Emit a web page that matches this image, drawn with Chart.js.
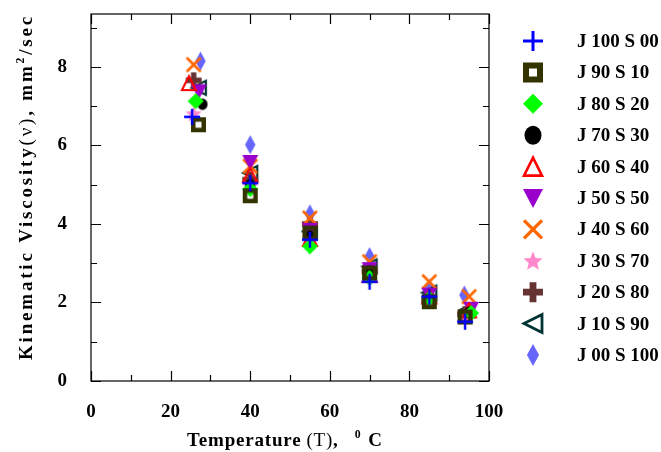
<!DOCTYPE html>
<html>
<head>
<meta charset="utf-8">
<script src="https://cdn.jsdelivr.net/npm/chart.js@4.4.1/dist/chart.umd.min.js"></script>
<style>
  html, body { margin: 0; padding: 0; background: #ffffff; }
  #wrap { width: 661px; height: 452px; position: relative; }
</style>
</head>
<body>
<div id="wrap"><canvas id="chart" width="661" height="452"></canvas></div>
<script>
// ─── Data ───────────────────────────────────────────────────────────────────
const SERIES_NAMES = [
    "J 100 S 00", "J 90 S 10", "J 80 S 20", "J 70 S 30", "J 60 S 40", "J 50 S 50",
    "J 40 S 60", "J 30 S 70", "J 20 S 80", "J 10 S 90", "J 00 S 100",
];

// temperature (°C) and kinematic viscosity (mm²/sec) for each blend
const T_J100_S00 = [25.4, 40, 55, 70, 85, 94];
const V_J100_S00 = [6.73, 5.04, 3.60, 2.53, 2.15, 1.51];
const T_J90_S10  = [27.0, 40, 55, 70, 85, 94];
const V_J90_S10  = [6.53, 4.72, 3.77, 2.75, 2.02, 1.63];
const T_J80_S20  = [26.3, 40, 55, 70, 85, 95.5];
const V_J80_S20  = [7.13, 4.89, 3.43, 2.63, 2.10, 1.73];
const T_J70_S30  = [28.0, 40, 55, 70, 85, 95];
const V_J70_S30  = [7.05, 5.00, 3.70, 2.80, 2.10, 1.75];
const T_J60_S40  = [24.6, 40, 55, 70, 85, 95];
const V_J60_S40  = [7.59, 5.25, 3.62, 2.70, 2.15, 1.80];
const T_J50_S50  = [27.1, 40, 55, 70, 85, 95.5];
const V_J50_S50  = [7.38, 5.58, 3.85, 2.85, 2.20, 1.84];
const T_J40_S60  = [25.8, 40, 55, 70, 85, 95];
const V_J40_S60  = [8.06, 5.47, 4.15, 3.04, 2.53, 2.15];
const T_J30_S70  = [25.8, 40, 55, 70, 85, 94];
const V_J30_S70  = [6.81, 4.97, 3.60, 2.75, 2.07, 1.65];
const T_J20_S80  = [25.8, 40, 55, 70, 85, 94];
const V_J20_S80  = [7.66, 5.13, 4.00, 2.79, 2.05, 1.70];
const T_J10_S90  = [27.1, 40, 55, 70, 85, 94.5];
const V_J10_S90  = [7.47, 5.30, 3.81, 2.92, 2.25, 1.81];
const T_J00_S100 = [27.5, 40, 55, 70, 85, 93.8];
const V_J00_S100 = [8.15, 6.02, 4.26, 3.17, 2.36, 2.19];

const TEMPS = [T_J100_S00, T_J90_S10, T_J80_S20, T_J70_S30, T_J60_S40, T_J50_S50,
               T_J40_S60, T_J30_S70, T_J20_S80, T_J10_S90, T_J00_S100];
const VISCS = [V_J100_S00, V_J90_S10, V_J80_S20, V_J70_S30, V_J60_S40, V_J50_S50,
               V_J40_S60, V_J30_S70, V_J20_S80, V_J10_S90, V_J00_S100];

const X_TICKS = [0, 20, 40, 60, 80, 100];
const X_MINOR = [10, 30, 50, 70, 90];
const Y_TICKS = [0, 2, 4, 6, 8];
const Y_MINOR = [1, 3, 5, 7, 9];

// ─── Styles ─────────────────────────────────────────────────────────────────
const FONT = "'Liberation Serif', 'Times New Roman', serif";
const COLORS = ["#0000ff", "#333300", "#00ff00", "#000000", "#ff0000", "#9900cc",
                "#ff6600", "#ff88cc", "#663333", "#003333", "#6666ff"];

// draws marker i centred on (x, y); s is the full marker size
function drawMarker(ctx, i, x, y, s) {
    const c = COLORS[i];
    const h = s / 2;
    ctx.save();
    ctx.translate(x, y);
    ctx.fillStyle = c;
    ctx.strokeStyle = c;
    ctx.lineJoin = "miter";
    ctx.beginPath();
    switch (i) {
        case 0: // thin plus
            ctx.lineWidth = s * 0.15;
            ctx.moveTo(-h, 0); ctx.lineTo(h, 0);
            ctx.moveTo(0, -h); ctx.lineTo(0, h);
            ctx.stroke();
            break;
        case 1: { // hollow thick square
            const w = s * 0.3;
            ctx.rect(-h, -h, s, s);
            ctx.rect(h - w, -h + w, -(s - 2 * w), s - 2 * w);
            ctx.fill("evenodd");
            break;
        }
        case 2: // diamond
            ctx.moveTo(0, -h); ctx.lineTo(h, 0); ctx.lineTo(0, h); ctx.lineTo(-h, 0);
            ctx.closePath(); ctx.fill();
            break;
        case 3: // filled circle
            ctx.ellipse(0, 0, h * 0.85, h * 0.95, 0, 0, Math.PI * 2);
            ctx.fill();
            break;
        case 4: // open triangle up
            ctx.lineWidth = s * 0.13;
            ctx.moveTo(0, -h + 1); ctx.lineTo(h - 1, h - 1); ctx.lineTo(-h + 1, h - 1);
            ctx.closePath(); ctx.stroke();
            break;
        case 5: // filled triangle down
            ctx.moveTo(-h, -h + 1); ctx.lineTo(h, -h + 1); ctx.lineTo(0, h);
            ctx.closePath(); ctx.fill();
            break;
        case 6: // X
            ctx.lineWidth = s * 0.17;
            ctx.moveTo(-h + 1, -h + 1); ctx.lineTo(h - 1, h - 1);
            ctx.moveTo(h - 1, -h + 1); ctx.lineTo(-h + 1, h - 1);
            ctx.stroke();
            break;
        case 7: { // filled five point star
            for (let k = 0; k < 10; k++) {
                const r = k % 2 === 0 ? h : h * 0.45;
                const a = -Math.PI / 2 + k * Math.PI / 5;
                const px = Math.cos(a) * r, py = Math.sin(a) * r + h * 0.08;
                if (k === 0) ctx.moveTo(px, py); else ctx.lineTo(px, py);
            }
            ctx.closePath(); ctx.fill();
            break;
        }
        case 8: // heavy plus
            ctx.lineWidth = s * 0.34;
            ctx.moveTo(-h, 0); ctx.lineTo(h, 0);
            ctx.moveTo(0, -h); ctx.lineTo(0, h);
            ctx.stroke();
            break;
        case 9: // open triangle left
            ctx.lineWidth = s * 0.14;
            ctx.moveTo(-h + 1, 0); ctx.lineTo(h - 1, -h + 1); ctx.lineTo(h - 1, h - 1);
            ctx.closePath(); ctx.stroke();
            break;
        case 10: // narrow diamond
            ctx.moveTo(0, -h); ctx.lineTo(h * 0.55, 0); ctx.lineTo(0, h); ctx.lineTo(-h * 0.55, 0);
            ctx.closePath(); ctx.fill();
            break;
    }
    ctx.restore();
}

const PLOT_SIZES = [16, 15, 16, 12, 16, 16, 16, 17, 16, 16, 19];

function markerImage(i, s) {
    const cv = document.createElement("canvas");
    cv.width = s + 4;
    cv.height = s + 4;
    drawMarker(cv.getContext("2d"), i, (s + 4) / 2, (s + 4) / 2, s);
    return cv;
}

// ─── Plugins ────────────────────────────────────────────────────────────────
// boxed frame with inward ticks on all four sides
const framePlugin = {
    id: "frame",
    afterDraw(chart) {
        const { ctx, chartArea: a, scales } = chart;
        const xs = scales.x, ys = scales.y;
        ctx.save();
        ctx.strokeStyle = "#000";
        ctx.lineWidth = 1.2;
        ctx.strokeRect(a.left, a.top, a.right - a.left, a.bottom - a.top);
        ctx.beginPath();
        const tick = (x1, y1, x2, y2) => { ctx.moveTo(x1, y1); ctx.lineTo(x2, y2); };
        X_TICKS.forEach(v => {
            const x = Math.round(xs.getPixelForValue(v)) + 0.5;
            tick(x, a.bottom, x, a.bottom - 10);
            tick(x, a.top, x, a.top + 10);
        });
        X_MINOR.forEach(v => {
            const x = Math.round(xs.getPixelForValue(v)) + 0.5;
            tick(x, a.bottom, x, a.bottom - 6);
            tick(x, a.top, x, a.top + 6);
        });
        Y_TICKS.forEach(v => {
            const y = Math.round(ys.getPixelForValue(v)) + 0.5;
            tick(a.left, y, a.left + 10, y);
            tick(a.right, y, a.right - 10, y);
        });
        Y_MINOR.forEach(v => {
            const y = Math.round(ys.getPixelForValue(v)) + 0.5;
            tick(a.left, y, a.left + 6, y);
            tick(a.right, y, a.right - 6, y);
        });
        ctx.stroke();
        ctx.restore();
    },
};

// text made of bold / regular / superscript runs; gap = extra space after a run
function runFont(r, size) {
    const s = r.sup ? size * 0.62 : size;
    return (r.b ? "bold " : "") + s + "px " + FONT;
}
function richWidth(ctx, runs, size) {
    let w = 0;
    runs.forEach(r => {
        ctx.font = runFont(r, size);
        w += ctx.measureText(r.t).width + (r.gap || 0);
    });
    return w;
}
function drawRich(ctx, runs, x, y, size) {
    runs.forEach(r => {
        ctx.font = runFont(r, size);
        ctx.fillText(r.t, x, r.sup ? y - size * 0.42 : y);
        x += ctx.measureText(r.t).width + (r.gap || 0);
    });
}

const X_TITLE = [{ t: "Temperature", b: true, gap: 5 }, { t: "(T)" }, { t: ",", b: true, gap: 16 },
                 { t: "0", b: true, sup: true, gap: 7 }, { t: "C", b: true }];
const Y_TITLE = [{ t: "Kinematic Viscosity", b: true }, { t: "(ν)" }, { t: ", mm", b: true },
                 { t: "2", b: true, sup: true }, { t: "/sec", b: true }];

const titlesPlugin = {
    id: "titles",
    afterDraw(chart) {
        const { ctx } = chart;
        ctx.save();
        ctx.fillStyle = "#000";
        ctx.textBaseline = "alphabetic";
        const size = 19;
        ctx.letterSpacing = "0.8px";
        const wx = richWidth(ctx, X_TITLE, size);
        drawRich(ctx, X_TITLE, 285 - wx / 2, 446, size);
        ctx.letterSpacing = "2.8px";
        ctx.translate(32, 187);
        ctx.rotate(-Math.PI / 2);
        const wy = richWidth(ctx, Y_TITLE, size);
        drawRich(ctx, Y_TITLE, -wy / 2, 0, size);
        ctx.restore();
    },
};

// legend column on the right
const legendPlugin = {
    id: "sideLegend",
    afterDraw(chart) {
        const { ctx } = chart;
        ctx.save();
        ctx.font = "bold 19px " + FONT;
        ctx.textBaseline = "middle";
        SERIES_NAMES.forEach((name, i) => {
            const y = 41 + i * 31.4;
            drawMarker(ctx, i, 533, y, i === 10 ? 22 : 20);
            ctx.fillStyle = "#000";
            ctx.fillText(name, 577, y + 1);
        });
        ctx.restore();
    },
};

// ─── Chart ──────────────────────────────────────────────────────────────────
const datasets = SERIES_NAMES.map((name, i) => ({
    label: name,
    data: TEMPS[i].map((t, k) => ({ x: t, y: VISCS[i][k] })),
    pointStyle: markerImage(i, PLOT_SIZES[i]),
    showLine: false,
}));

new Chart(document.getElementById("chart"), {
    type: "scatter",
    data: { datasets },
    options: {
        responsive: false,
        animation: false,
        layout: { padding: { top: 14, right: 172, left: 0, bottom: 0 } },
        plugins: {
            legend: { display: false },
            tooltip: { enabled: false },
        },
        scales: {
            x: {
                min: 0,
                max: 100,
                afterBuildTicks: s => { s.ticks = X_TICKS.map(v => ({ value: v })); },
                afterFit: s => { s.height = 71; s.paddingLeft = 0; s.paddingRight = 0; },
                grid: { display: false, drawTicks: false },
                border: { display: false },
                ticks: {
                    color: "#000",
                    padding: 20,
                    maxRotation: 0,
                    font: { family: FONT, size: 19, weight: "bold" },
                },
            },
            y: {
                min: 0,
                max: 9.35,
                afterBuildTicks: s => { s.ticks = Y_TICKS.map(v => ({ value: v })); },
                afterFit: s => { s.width = 91; s.paddingTop = 0; s.paddingBottom = 0; },
                grid: { display: false, drawTicks: false },
                border: { display: false },
                ticks: {
                    color: "#000",
                    padding: 24,
                    font: { family: FONT, size: 19, weight: "bold" },
                },
            },
        },
    },
    plugins: [framePlugin, titlesPlugin, legendPlugin],
});
</script>
</body>
</html>
